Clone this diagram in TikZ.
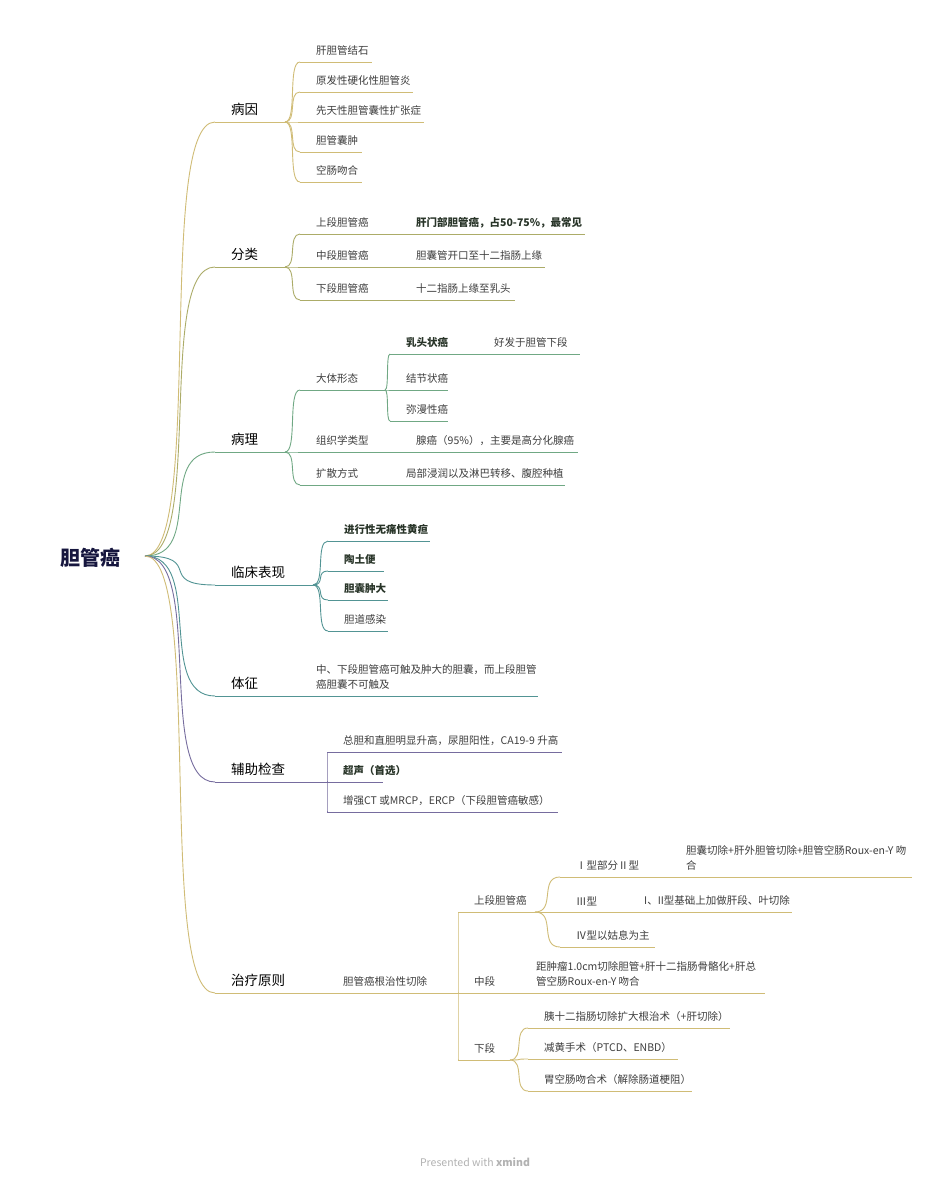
\documentclass[tikz,border=0pt]{standalone}
\usepackage{fontspec}
\setmainfont{Noto Sans CJK SC}
\usetikzlibrary{calc}
\definecolor{cA}{RGB}{208,188,118}
\definecolor{cB}{RGB}{172,172,104}
\definecolor{cC}{RGB}{112,168,132}
\definecolor{cD}{RGB}{82,148,148}
\definecolor{cE}{RGB}{118,108,158}
\definecolor{txtgray}{RGB}{62,62,62}
\definecolor{boldtxt}{RGB}{40,52,40}
\definecolor{rootcol}{RGB}{22,22,62}
\tikzset{
  leaf/.style={font=\fontsize{10.5}{15}\selectfont, text=txtgray},
  leafb/.style={font=\fontsize{10.5}{15}\selectfont\bfseries, text=boldtxt},
  main/.style={font=\fontsize{13.5}{16}\selectfont, text=black},
}
% [style] colour, name, x0, x1, y (line), text
\newcommand\topic[7][leaf]{%
  \coordinate (#3L) at (#4,#6);
  \coordinate (#3R) at (#5,#6);
  \node[#1, anchor=south west, inner sep=0pt, align=left] (#3) at ($(#3L)+(16,-6)$) {#7};
  \draw[#2, line width=0.9pt] (#3L) -- (#3R);
}
\newcommand\link[3]{%
  \draw[#1, line width=0.9pt] let \p1=(#2), \p2=(#3) in
    (#2) .. controls ({\x1+0.85*(\x2-\x1)},\y1) and ({\x1+0.15*(\x2-\x1)},\y2) .. (#3);
}
\begin{document}
\begin{tikzpicture}[x=1pt, y=-1pt]
\useasboundingbox[fill=white] (0,0) rectangle (950,1182);

\node[font=\fontsize{20}{22}\selectfont\bfseries, text=rootcol, inner xsep=22pt] (root) at (90,558) {胆管癌};
\coordinate (rootR) at (145,556);

% 病因
\topic[main]{cA}{bingyin}{215}{285}{122}{病因}
\topic{cA}{by1}{300}{372}{62}{肝胆管结石}
\topic{cA}{by2}{300}{413}{92}{原发性硬化性胆管炎}
\topic{cA}{by3}{300}{424}{122}{先天性胆管囊性扩张症}
\topic{cA}{by4}{300}{362}{152}{胆管囊肿}
\topic{cA}{by5}{300}{362}{182}{空肠吻合}
\foreach \c in {by1,by2,by3,by4,by5} {\link{cA}{bingyinR}{\c L}}

% 分类
\topic[main]{cB}{fenlei}{215}{285}{267}{分类}
\topic{cB}{fl1}{300}{400}{234}{上段胆管癌}
\topic[leafb]{cB}{fl1x}{400}{585}{234}{肝门部胆管癌，占50-75\%，最常见}
\topic{cB}{fl2}{300}{400}{267}{中段胆管癌}
\topic{cB}{fl2x}{400}{545}{267}{胆囊管开口至十二指肠上缘}
\topic{cB}{fl3}{300}{400}{300}{下段胆管癌}
\topic{cB}{fl3x}{400}{515}{300}{十二指肠上缘至乳头}
\foreach \c in {fl1,fl2,fl3} {\link{cB}{fenleiR}{\c L}}

% 病理
\topic[main]{cC}{bingli}{215}{285}{452}{病理}
\topic{cC}{bl1}{300}{385}{390}{大体形态}
\topic[leafb]{cC}{bl11}{390}{478}{354}{乳头状癌}
\topic{cC}{bl11x}{478}{580}{354}{好发于胆管下段}
\topic{cC}{bl12}{390}{448}{390}{结节状癌}
\topic{cC}{bl13}{390}{448}{421}{弥漫性癌}
\topic{cC}{bl2}{300}{400}{452}{组织学类型}
\topic{cC}{bl2x}{400}{578}{452}{腺癌（95\%），主要是高分化腺癌}
\topic{cC}{bl3}{300}{390}{485}{扩散方式}
\topic{cC}{bl3x}{390}{565}{485}{局部浸润以及淋巴转移、腹腔种植}
\foreach \c in {bl1,bl2,bl3} {\link{cC}{bingliR}{\c L}}
\foreach \c in {bl11,bl12,bl13} {\link{cC}{bl1R}{\c L}}

% 临床表现
\topic[main]{cD}{linchuang}{215}{313}{585}{临床表现}
\topic[leafb]{cD}{lc1}{328}{430}{541}{进行性无痛性黄疸}
\topic[leafb]{cD}{lc2}{328}{384}{571}{陶土便}
\topic[leafb]{cD}{lc3}{328}{388}{600}{胆囊肿大}
\topic{cD}{lc4}{328}{388}{631}{胆道感染}
\foreach \c in {lc1,lc2,lc3,lc4} {\link{cD}{linchuangR}{\c L}}

% 体征
\topic[main]{cD}{tizheng}{215}{300}{696}{体征}
\topic{cD}{tz1}{300}{538}{696}{中、下段胆管癌可触及肿大的胆囊，而上段胆管\\癌胆囊不可触及}

% 辅助检查
\topic[main]{cE}{fuzhu}{215}{327}{782}{辅助检查}
\topic{cE}{fz1}{327}{562}{752}{总胆和直胆明显升高，尿胆阳性，CA19-9 升高}
\topic[leafb]{cE}{fz2}{327}{383}{782}{超声（首选）}
\topic{cE}{fz3}{327}{558}{812}{增强CT 或MRCP，ERCP（下段胆管癌敏感）}
\foreach \c in {fz1,fz2,fz3} {\link{cE}{fuzhuR}{\c L}}

% 治疗原则
\topic[main]{cA}{zhiliao}{215}{327}{993}{治疗原则}
\topic{cA}{zl1}{327}{458}{993}{胆管癌根治性切除}
\topic{cA}{zl2}{458}{535}{912}{上段胆管癌}
\topic{cA}{zl21}{560}{670}{877}{Ⅰ型部分Ⅱ型}
\topic{cA}{zl21x}{670}{912}{877}{胆囊切除+肝外胆管切除+胆管空肠Roux-en-Y 吻\\合}
\topic{cA}{zl22}{560}{628}{912}{Ⅲ型}
\topic{cA}{zl22x}{628}{792}{912}{I、II型基础上加做肝段、叶切除}
\topic{cA}{zl23}{560}{655}{947}{Ⅳ型以姑息为主}
\topic{cA}{zl3}{458}{520}{993}{中段}
\topic{cA}{zl3x}{520}{765}{993}{距肿瘤1.0cm切除胆管+肝十二指肠骨骼化+肝总\\管空肠Roux-en-Y 吻合}
\topic{cA}{zl4}{458}{510}{1060}{下段}
\topic{cA}{zl41}{528}{730}{1028}{胰十二指肠切除扩大根治术（+肝切除）}
\topic{cA}{zl42}{528}{678}{1059}{减黄手术（PTCD、ENBD）}
\topic{cA}{zl43}{528}{692}{1091}{胃空肠吻合术（解除肠道梗阻）}
\foreach \c in {zl2,zl3,zl4} {\link{cA}{zl1R}{\c L}}
\foreach \c in {zl21,zl22,zl23} {\link{cA}{zl2R}{\c L}}
\foreach \c in {zl41,zl42,zl43} {\link{cA}{zl4R}{\c L}}

% root links
\link{cA}{rootR}{bingyinL}
\link{cB}{rootR}{fenleiL}
\link{cC}{rootR}{bingliL}
\link{cD}{rootR}{linchuangL}
\link{cD}{rootR}{tizhengL}
\link{cE}{rootR}{fuzhuL}
\link{cA}{rootR}{zhiliaoL}

\node[font=\fontsize{10.5}{12}\selectfont, text=black!30] (footer) at (475,1162) {Presented with \textbf{xmind}};
\end{tikzpicture}
\end{document}
